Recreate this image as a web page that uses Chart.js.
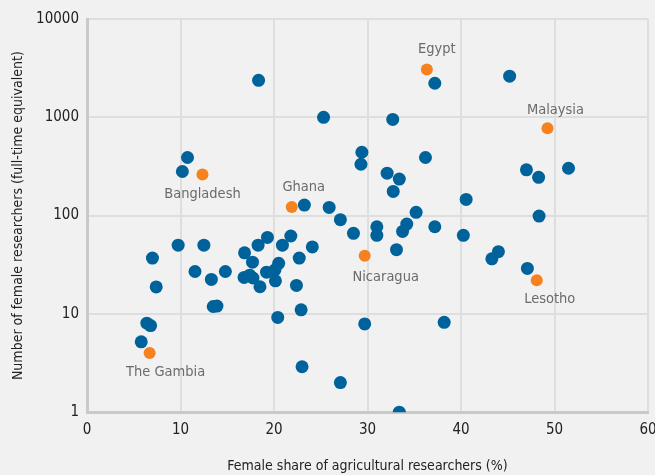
<!DOCTYPE html>
<html>
<head>
<meta charset="utf-8">
<script src="https://cdn.jsdelivr.net/npm/chart.js@4.4.0/dist/chart.umd.min.js"></script>
<style>
  html, body { margin: 0; padding: 0; background: #f1f1f1; }
  #wrap { width: 655px; height: 475px; position: relative; }
</style>
</head>
<body>
<div id="wrap"><canvas id="grafica" width="655" height="475"></canvas></div>
<script>
// Datos: porcentaje de investigadoras (x) y número de investigadoras (y)
const otrosX = [18.35, 25.3, 37.2, 45.2, 32.7, 29.4, 29.3, 36.2, 32.1, 33.4, 32.75,
  40.55, 47.0, 48.3, 51.5, 48.35, 10.75, 10.2, 23.25, 25.9, 27.1, 28.5, 35.2, 34.2,
  33.75, 31.0, 31.0, 37.2, 40.25, 33.1, 21.8, 24.1, 20.9, 22.7, 20.5, 7.0, 9.75, 12.5,
  7.4, 11.55, 13.3, 14.8, 13.5, 13.9, 16.85, 17.7, 18.3, 19.3, 20.1, 19.2, 16.8, 17.4,
  17.75, 18.5, 20.15, 22.4, 22.9, 20.4, 6.4, 6.8, 5.8, 23.0, 29.7, 38.2, 27.1, 33.4,
  47.1, 44.0, 43.3];
const otrosY = [2380, 1000, 2220, 2620, 952, 441, 333, 390, 270, 235, 176,
  146, 292, 245, 303, 99, 390, 281, 128, 121, 91, 66, 108, 82,
  69, 77, 63, 77, 63, 45, 62, 48, 50, 37, 32.7, 37, 50, 50,
  18.8, 27, 22.4, 27, 11.9, 12, 41.8, 33.6, 50, 60, 28, 26.6, 23.5, 24.8,
  23.2, 18.9, 21.7, 19.5, 11, 9.2, 8.05, 7.6, 5.2, 2.9, 7.9, 8.2, 2.0, 1.0,
  29, 43, 36.3];

const paises = ['Egypt', 'Malaysia', 'Bangladesh', 'Ghana', 'Nicaragua', 'Lesotho', 'The Gambia'];
const paisesX = [36.35, 49.25, 12.35, 21.9, 29.7, 48.1, 6.7];
const paisesY = [3060, 772, 262, 122, 39, 22, 4.0];

const xTicks = [0, 10, 20, 30, 40, 50, 60];
const yTicks = [1, 10, 100, 1000, 10000];

const FUENTE = "'Liberation Sans Narrow', 'DejaVu Sans Condensed', sans-serif";

// desplazamiento de cada etiqueta respecto a su punto (px)
const desplaza = {
  'Egypt': [10, -20],
  'Malaysia': [8, -18],
  'Bangladesh': [0, 20],
  'Ghana': [12, -20],
  'Nicaragua': [21, 21],
  'Lesotho': [13, 19],
  'The Gambia': [16, 19]
};

const etiquetasPlugin = {
  id: 'etiquetas',
  afterDatasetsDraw(chart) {
    const ctx = chart.ctx;
    const sx = chart.scales.x, sy = chart.scales.y;
    ctx.save();
    ctx.font = '14.5px ' + FUENTE;
    ctx.fillStyle = '#6b6b6b';
    ctx.textAlign = 'center';
    ctx.textBaseline = 'middle';
    paises.forEach((p, i) => {
      const d = desplaza[p];
      ctx.fillText(p, sx.getPixelForValue(paisesX[i]) + d[0], sy.getPixelForValue(paisesY[i]) + d[1]);
    });
    ctx.restore();
  }
};

const ctx = document.getElementById('grafica').getContext('2d');
new Chart(ctx, {
  type: 'scatter',
  data: {
    datasets: [
      {
        label: 'Otros',
        data: otrosX.map((x, i) => ({ x: x, y: otrosY[i] })),
        backgroundColor: '#00629b',
        borderWidth: 0,
        pointRadius: 6.5,
        order: 2
      },
      {
        label: 'Destacados',
        data: paisesX.map((x, i) => ({ x: x, y: paisesY[i] })),
        backgroundColor: '#f5821f',
        borderWidth: 0,
        pointRadius: 6,
        order: 1
      }
    ]
  },
  options: {
    responsive: false,
    animation: false,
    layout: { padding: { left: 10, right: 7, top: 19, bottom: 0 } },
    plugins: {
      legend: { display: false },
      tooltip: { enabled: false }
    },
    scales: {
      x: {
        type: 'linear',
        min: 0,
        max: 60,
        afterBuildTicks: (s) => { s.ticks = xTicks.map(v => ({ value: v })); },
        afterFit: (s) => { s.paddingRight = 0; },
        ticks: { color: '#222', font: { family: FUENTE, size: 15 }, padding: 9 },
        grid: { color: '#dedede', lineWidth: 2, drawTicks: false },
        border: { color: '#c9c9c9', width: 3 },
        title: {
          display: true,
          text: 'Female share of agricultural researchers (%)',
          color: '#222',
          font: { family: FUENTE, size: 14 },
          padding: { top: 10, bottom: 0 }
        }
      },
      y: {
        type: 'logarithmic',
        min: 1,
        max: 10000,
        afterBuildTicks: (s) => { s.ticks = yTicks.map(v => ({ value: v })); },
        afterFit: (s) => { s.width = 77; },
        ticks: {
          color: '#222',
          font: { family: FUENTE, size: 15 },
          padding: 8,
          callback: (v) => String(v)
        },
        grid: { color: '#dedede', lineWidth: 2, drawTicks: false },
        border: { color: '#c9c9c9', width: 3 },
        title: {
          display: true,
          text: 'Number of female researchers (full-time equivalent)',
          color: '#222',
          font: { family: FUENTE, size: 14 },
          padding: { top: 0, bottom: 4 }
        }
      }
    }
  },
  plugins: [etiquetasPlugin]
});
</script>
</body>
</html>
